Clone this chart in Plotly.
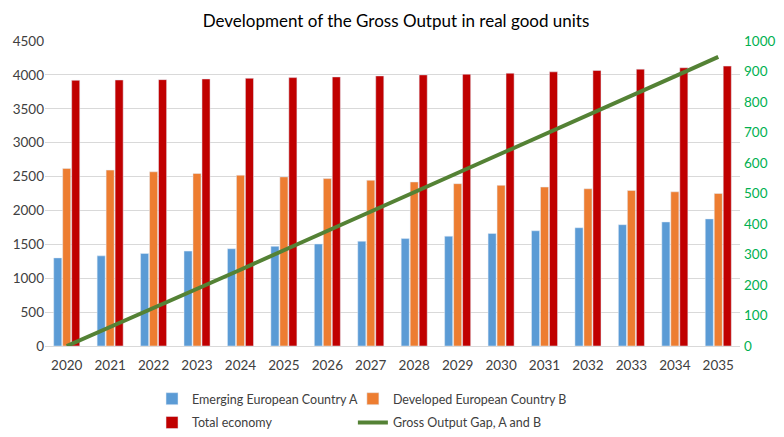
import plotly.graph_objects as go

years = [str(y) for y in range(2020, 2036)]
country_a = [1300, 1330, 1365, 1400, 1435, 1470, 1505, 1545, 1585, 1620, 1660, 1700, 1745, 1790, 1830, 1875]
country_b = [2620, 2595, 2570, 2545, 2520, 2495, 2470, 2445, 2420, 2395, 2370, 2345, 2320, 2295, 2275, 2250]
total_economy = [3920, 3925, 3930, 3940, 3950, 3960, 3970, 3985, 4000, 4010, 4025, 4045, 4065, 4085, 4105, 4130]
output_gap = [0, 62, 125, 188, 250, 314, 377, 440, 503, 567, 630, 694, 757, 821, 884, 948]

FONT = "Lato"
TEXT = "#404040"

fig = go.Figure()
fig.add_trace(go.Bar(x=years, y=country_a, name="Emerging European Country A",
                     marker_color="#5B9BD5", legend="legend"))
fig.add_trace(go.Bar(x=years, y=country_b, name="Developed European Country B",
                     marker_color="#ED7D31", legend="legend2"))
fig.add_trace(go.Bar(x=years, y=total_economy, name="Total economy",
                     marker_color="#C00000", legend="legend3"))
fig.add_trace(go.Scatter(x=years, y=output_gap, name="Gross Output Gap, A and B",
                         mode="lines", line=dict(color="#548235", width=4),
                         yaxis="y2", legend="legend4"))

# one legend per entry so they sit in a 2x2 grid like the original
legend_style = dict(orientation="h", xref="paper", yref="paper", xanchor="left",
                    yanchor="middle", font=dict(family=FONT, size=12.5, color=TEXT),
                    bgcolor="rgba(0,0,0,0)")
col1, col2 = 0.154, 0.443
row1, row2 = -0.174, -0.252

# the page body adds an 8px margin, so the figure is a little smaller than the window
fig.update_layout(
    width=776, height=429,
    margin=dict(l=37, r=44, t=33, b=91, autoexpand=False),
    paper_bgcolor="white", plot_bgcolor="white",
    showlegend=True,
    title=dict(text="Development of the Gross Output in real good units",
               x=0.5, xanchor="center", yref="container", y=0.984, yanchor="top",
               pad=dict(t=0, b=0),
               font=dict(family=FONT, size=17, color="#000000")),
    barmode="group", bargap=0.38, bargroupgap=0.1,
    font=dict(family=FONT, size=13.5, color=TEXT),
    xaxis=dict(showgrid=False, showline=True, linecolor="#D9D9D9", ticks="",
               ticklabelstandoff=7,
               tickfont=dict(family=FONT, size=13.5, color=TEXT)),
    yaxis=dict(range=[0, 4500], dtick=500, gridcolor="#D9D9D9", zeroline=False,
               showline=False, ticks="",
               tickfont=dict(family=FONT, size=13.5, color=TEXT)),
    yaxis2=dict(range=[0, 1000], dtick=100, overlaying="y", side="right", showgrid=False,
                zeroline=False, ticks="", ticklabelstandoff=3,
                tickfont=dict(family=FONT, size=13.5, color="#00B050")),
    legend=dict(x=col1, y=row1, **legend_style),
    legend2=dict(x=col2, y=row1, **legend_style),
    legend3=dict(x=col1, y=row2, **legend_style),
    legend4=dict(x=col2, y=row2, **legend_style),
)

fig.write_html("out.html")
